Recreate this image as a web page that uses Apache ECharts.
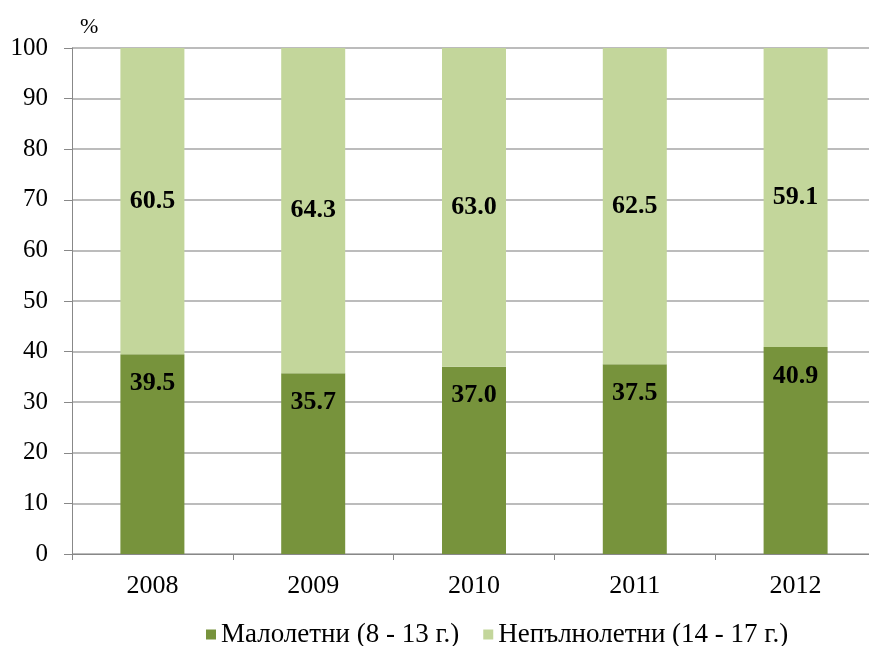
<!DOCTYPE html>
<html>
<head>
<meta charset="utf-8">
<script src="https://cdn.jsdelivr.net/npm/echarts@6/dist/echarts.min.js"></script>
<style>
html, body { margin: 0; padding: 0; background: #fff; overflow: hidden; }
#chart { width: 876px; height: 646px; }
</style>
</head>
<body>
<div id="chart"></div>
<script>
var years = ['2008', '2009', '2010', '2011', '2012'];
var minors = [39.5, 35.7, 37.0, 37.5, 40.9];
var juveniles = [60.5, 64.3, 63.0, 62.5, 59.1];
var seriesNames = ['Малолетни (8 - 13 г.)', 'Непълнолетни (14 - 17 г.)'];

var serif = '"Liberation Serif", "Times New Roman", serif';
var chart = echarts.init(document.getElementById('chart'));

var fmt = function (p) { return p.value.toFixed(1); };

var option = {
    animation: false,
    color: ['#77933c', '#c3d69b'],
    grid: { left: 72, top: 48, right: 0, height: 506 },
    legend: {
        top: 616,
        left: 201,
        itemWidth: 10,
        itemHeight: 10,
        itemGap: 24,
        icon: 'rect',
        textStyle: { fontFamily: serif, fontSize: 27, color: '#000' },
        data: seriesNames
    },
    xAxis: {
        type: 'category',
        data: years,
        axisLine: { lineStyle: { color: '#888', width: 1 } },
        axisTick: { show: true, length: 6, lineStyle: { color: '#888' } },
        axisLabel: { fontFamily: serif, fontSize: 26, color: '#000', margin: 19 }
    },
    yAxis: {
        type: 'value',
        min: 0,
        max: 100,
        interval: 10,
        name: '%',
        nameGap: 10,
        nameTextStyle: { fontFamily: serif, fontSize: 22, color: '#000', align: 'left', padding: [0, 0, 0, 8] },
        axisLine: { show: true, lineStyle: { color: '#888', width: 1 } },
        axisTick: { show: true, length: 8, inside: false, lineStyle: { color: '#888' } },
        axisLabel: { fontFamily: serif, fontSize: 25, color: '#000', margin: 24 },
        splitLine: { lineStyle: { color: '#a6a6a6', width: 1.5 } }
    },
    series: [
        {
            name: seriesNames[0],
            type: 'bar',
            stack: 'total',
            barWidth: 64,
            data: minors,
            label: {
                show: true,
                position: 'insideTop',
                distance: 16,
                formatter: fmt,
                fontFamily: serif,
                fontWeight: 'bold',
                fontSize: 26,
                color: '#000'
            }
        },
        {
            name: seriesNames[1],
            type: 'bar',
            stack: 'total',
            barWidth: 64,
            data: juveniles,
            label: {
                show: true,
                position: 'inside',
                formatter: fmt,
                fontFamily: serif,
                fontWeight: 'bold',
                fontSize: 26,
                color: '#000'
            }
        }
    ]
};
chart.setOption(option);
</script>
</body>
</html>
